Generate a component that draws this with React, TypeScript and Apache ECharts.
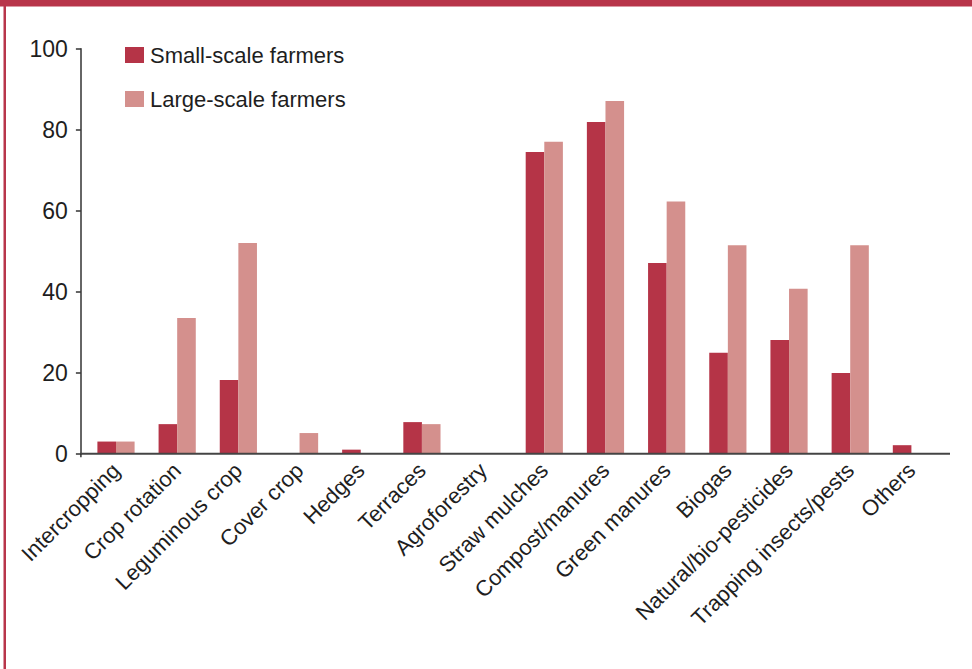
import React, { useEffect, useRef } from "react";
import * as echarts from "echarts";

const categories = [
  "Intercropping",
  "Crop rotation",
  "Leguminous crop",
  "Cover crop",
  "Hedges",
  "Terraces",
  "Agroforestry",
  "Straw mulches",
  "Compost/manures",
  "Green manures",
  "Biogas",
  "Natural/bio-pesticides",
  "Trapping insects/pests",
  "Others",
];

const smallScale = [3, 7.3, 18.2, 0, 1, 7.8, 0, 74.5, 81.9, 47.1, 24.9, 28.1, 19.9, 2.1];
const largeScale = [3, 33.5, 52, 5.1, 0, 7.3, 0, 77, 87.1, 62.3, 51.5, 40.7, 51.5, 0];

const yTicks = { min: 0, max: 100, interval: 20 };

const FONT = "'Liberation Sans', Arial, sans-serif";
const TEXT = "#1e1e1e";
const DARK = "#B53447";
const LIGHT = "#D4908D";
const BORDER = "#B8354A";

export default function App() {
  const ref = useRef<HTMLDivElement>(null);

  useEffect(() => {
    if (!ref.current) return;
    const chart = echarts.init(ref.current, null, { renderer: "svg" });
    const gridTop = 48.7;
    const gridBottom = 215.3;
    const axisY = 669 - gridBottom;
    chart.setOption({
      animation: false,
      backgroundColor: "#ffffff",
      textStyle: { fontFamily: FONT },
      grid: { left: 85.4, right: 30, top: gridTop, bottom: gridBottom, containLabel: false },
      legend: {
        orient: "vertical",
        left: 120,
        top: 39,
        itemWidth: 19,
        itemHeight: 16,
        itemGap: 22,
        icon: "rect",
        textStyle: { fontFamily: FONT, fontSize: 22, color: TEXT, padding: [0, 0, 0, 1] },
        data: ["Small-scale farmers", "Large-scale farmers"],
      },
      xAxis: {
        type: "category",
        data: categories,
        boundaryGap: true,
        axisLine: { show: false },
        axisTick: { show: false },
        axisLabel: {
          interval: 0,
          rotate: 45,
          fontSize: 22,
          color: TEXT,
          fontFamily: FONT,
          margin: 13,
        },
      },
      yAxis: {
        type: "value",
        min: yTicks.min,
        max: yTicks.max,
        interval: yTicks.interval,
        offset: 4.5,
        axisLine: { show: true, lineStyle: { color: "#333333", width: 1.5 } },
        axisTick: { show: true, length: 5, lineStyle: { color: "#333333", width: 1.5 } },
        splitLine: { show: false },
        axisLabel: { fontSize: 23, color: TEXT, fontFamily: FONT, margin: 13 },
      },
      series: [
        {
          name: "Small-scale farmers",
          type: "bar",
          data: smallScale,
          barWidth: 18.6,
          barGap: "0%",
          itemStyle: { color: DARK },
        },
        {
          name: "Large-scale farmers",
          type: "bar",
          data: largeScale,
          barWidth: 18.6,
          barGap: "0%",
          itemStyle: { color: LIGHT },
        },
      ],
      graphic: [
        {
          type: "rect",
          shape: { x: 0, y: 0, width: 972, height: 6.5 },
          style: { fill: BORDER },
          silent: true,
        },
        {
          type: "rect",
          shape: { x: 3.5, y: 0, width: 2.5, height: 669 },
          style: { fill: BORDER },
          silent: true,
        },
        {
          type: "line",
          shape: { x1: 80, y1: axisY, x2: 950, y2: axisY },
          style: { stroke: "#444444", lineWidth: 2 },
          silent: true,
          z: 10,
        },
        {
          type: "line",
          shape: { x1: 80.9, y1: axisY, x2: 80.9, y2: axisY + 3.5 },
          style: { stroke: "#333333", lineWidth: 1.5 },
          silent: true,
          z: 10,
        },
      ],
    });
    return () => chart.dispose();
  }, []);

  return (
    <div
      ref={ref}
      style={{ position: "fixed", left: 0, top: 0, width: 972, height: 669, background: "#fff" }}
    />
  );
}
